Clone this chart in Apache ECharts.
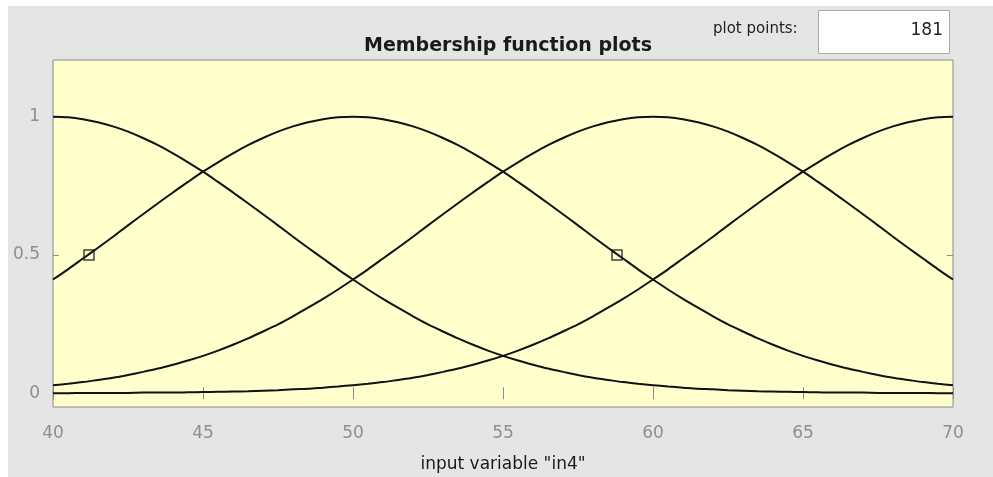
<!DOCTYPE html>
<html>
<head>
<meta charset="utf-8">
<script src="https://cdn.jsdelivr.net/npm/echarts@6/dist/echarts.min.js"></script>
<style>
  html, body { margin: 0; padding: 0; background: #ffffff; }
  #chart { width: 993px; height: 477px; }
</style>
</head>
<body>
<div id="chart"></div>
<script>
// input variable range, readings every half unit
const xValues = [40, 40.5, 41, 41.5, 42, 42.5, 43, 43.5, 44, 44.5, 45, 45.5, 46, 46.5, 47, 47.5,
  48, 48.5, 49, 49.5, 50, 50.5, 51, 51.5, 52, 52.5, 53, 53.5, 54, 54.5, 55, 55.5,
  56, 56.5, 57, 57.5, 58, 58.5, 59, 59.5, 60, 60.5, 61, 61.5, 62, 62.5, 63, 63.5,
  64, 64.5, 65, 65.5, 66, 66.5, 67, 67.5, 68, 68.5, 69, 69.5, 70];

// membership functions
const mf1 = [1.000, 0.998, 0.991, 0.980, 0.965, 0.946, 0.923, 0.897, 0.867, 0.835, 0.801, 0.764, 0.726, 0.687, 0.647, 0.607,
  0.566, 0.526, 0.487, 0.448, 0.411, 0.375, 0.341, 0.309, 0.278, 0.249, 0.223, 0.198, 0.175, 0.154, 0.135, 0.118,
  0.103, 0.089, 0.077, 0.066, 0.056, 0.048, 0.040, 0.034, 0.029, 0.024, 0.020, 0.016, 0.014, 0.011, 0.009, 0.007,
  0.006, 0.005, 0.004, 0.003, 0.002, 0.002, 0.002, 0.001, 0.001, 0.001, 0.001, 0.000, 0.000];
const mf2 = [0.411, 0.448, 0.487, 0.526, 0.566, 0.607, 0.647, 0.687, 0.726, 0.764, 0.801, 0.835, 0.867, 0.897, 0.923, 0.946,
  0.965, 0.980, 0.991, 0.998, 1.000, 0.998, 0.991, 0.980, 0.965, 0.946, 0.923, 0.897, 0.867, 0.835, 0.801, 0.764,
  0.726, 0.687, 0.647, 0.607, 0.566, 0.526, 0.487, 0.448, 0.411, 0.375, 0.341, 0.309, 0.278, 0.249, 0.223, 0.198,
  0.175, 0.154, 0.135, 0.118, 0.103, 0.089, 0.077, 0.066, 0.056, 0.048, 0.040, 0.034, 0.029];
const mf3 = [0.029, 0.034, 0.040, 0.048, 0.056, 0.066, 0.077, 0.089, 0.103, 0.118, 0.135, 0.154, 0.175, 0.198, 0.223, 0.249,
  0.278, 0.309, 0.341, 0.375, 0.411, 0.448, 0.487, 0.526, 0.566, 0.607, 0.647, 0.687, 0.726, 0.764, 0.801, 0.835,
  0.867, 0.897, 0.923, 0.946, 0.965, 0.980, 0.991, 0.998, 1.000, 0.998, 0.991, 0.980, 0.965, 0.946, 0.923, 0.897,
  0.867, 0.835, 0.801, 0.764, 0.726, 0.687, 0.647, 0.607, 0.566, 0.526, 0.487, 0.448, 0.411];
const mf4 = [0.000, 0.000, 0.001, 0.001, 0.001, 0.001, 0.002, 0.002, 0.002, 0.003, 0.004, 0.005, 0.006, 0.007, 0.009, 0.011,
  0.014, 0.016, 0.020, 0.024, 0.029, 0.034, 0.040, 0.048, 0.056, 0.066, 0.077, 0.089, 0.103, 0.118, 0.135, 0.154,
  0.175, 0.198, 0.223, 0.249, 0.278, 0.309, 0.341, 0.375, 0.411, 0.448, 0.487, 0.526, 0.566, 0.607, 0.647, 0.687,
  0.726, 0.764, 0.801, 0.835, 0.867, 0.897, 0.923, 0.946, 0.965, 0.980, 0.991, 0.998, 1.000];

// handles of the selected function
const handleX = [41.2, 58.8];
const handleY = [0.5, 0.5];

const yTicks = [0, 0.5, 1];
const plotPoints = '181';

function pairs(ys) {
  return xValues.map((x, i) => [x, ys[i]]);
}

let myChart = echarts.init(document.getElementById('chart'));
const labelColor = '#8e8e8e';
const tickColor = '#8a8a8a';
const fontFam = '"DejaVu Sans", Verdana, sans-serif';

const curve = (name, ys) => ({
  name: name,
  type: 'line',
  data: pairs(ys),
  smooth: 0.3,
  showSymbol: false,
  lineStyle: { color: '#111111', width: 2 },
  silent: true,
  z: 3
});

myChart.setOption({
  animation: false,
  backgroundColor: '#ffffff',
  title: {
    text: 'Membership function plots',
    left: 503,
    textAlign: 'center',
    top: 32,
    textStyle: { fontFamily: fontFam, fontSize: 19, fontWeight: 'bold', color: '#1a1a1a' }
  },
  graphic: [
    { type: 'rect', left: 8, top: 6, z: -10,
      shape: { width: 985, height: 471 }, style: { fill: '#e5e5e5' } },
    { type: 'text', left: 713, top: 22, z: 10,
      style: { text: 'plot points:', fontFamily: fontFam, fontSize: 15, fill: '#222222' } },
    { type: 'rect', left: 818, top: 10, z: 10,
      shape: { width: 131, height: 43 }, style: { fill: '#ffffff', stroke: '#a8a8a8', lineWidth: 1 } },
    { type: 'text', right: 50, top: 22, z: 11,
      style: { text: plotPoints, fontFamily: fontFam, fontSize: 17, fill: '#222222', textAlign: 'right' } }
  ],
  grid: {
    left: 53, top: 60, width: 900, height: 347,
    outerBoundsMode: 'none',
    containLabel: false,
    show: true, backgroundColor: '#ffffcc', borderColor: tickColor, borderWidth: 1
  },
  xAxis: [{
    type: 'value', min: 40, max: 70, interval: 5,
    name: 'input variable "in4"', nameLocation: 'middle', nameGap: 49,
    nameTextStyle: { fontFamily: fontFam, fontSize: 17, color: '#1a1a1a' },
    axisLine: { show: false },
    axisTick: { inside: true, length: 6, lineStyle: { color: tickColor } },
    axisLabel: { margin: 18, fontFamily: fontFam, fontSize: 17, color: labelColor },
    splitLine: { show: false }
  }, {
    type: 'value', min: 40, max: 70, interval: 5, position: 'top',
    axisLine: { show: false },
    axisTick: { inside: true, length: 6, lineStyle: { color: tickColor } },
    axisLabel: { show: false },
    splitLine: { show: false }
  }],
  yAxis: [{
    type: 'value', min: -0.05, max: 1.205,
    axisLine: { show: false },
    axisTick: { inside: true, length: 6, customValues: yTicks, lineStyle: { color: tickColor } },
    axisLabel: { margin: 13, fontFamily: fontFam, fontSize: 17, color: labelColor, customValues: yTicks },
    splitLine: { show: false }
  }, {
    type: 'value', min: -0.05, max: 1.205, position: 'right',
    axisLine: { show: false },
    axisTick: { inside: true, length: 6, customValues: yTicks, lineStyle: { color: tickColor } },
    axisLabel: { show: false, customValues: yTicks },
    splitLine: { show: false }
  }],
  series: [
    curve('mf1', mf1),
    curve('mf2', mf2),
    curve('mf3', mf3),
    curve('mf4', mf4),
    {
      name: 'handles',
      type: 'scatter',
      data: handleX.map((x, i) => [x, handleY[i]]),
      symbol: 'rect',
      symbolSize: 10,
      itemStyle: { color: 'rgba(0,0,0,0)', borderColor: '#111111', borderWidth: 1.5 },
      silent: true,
      z: 5
    }
  ]
});
</script>
</body>
</html>
